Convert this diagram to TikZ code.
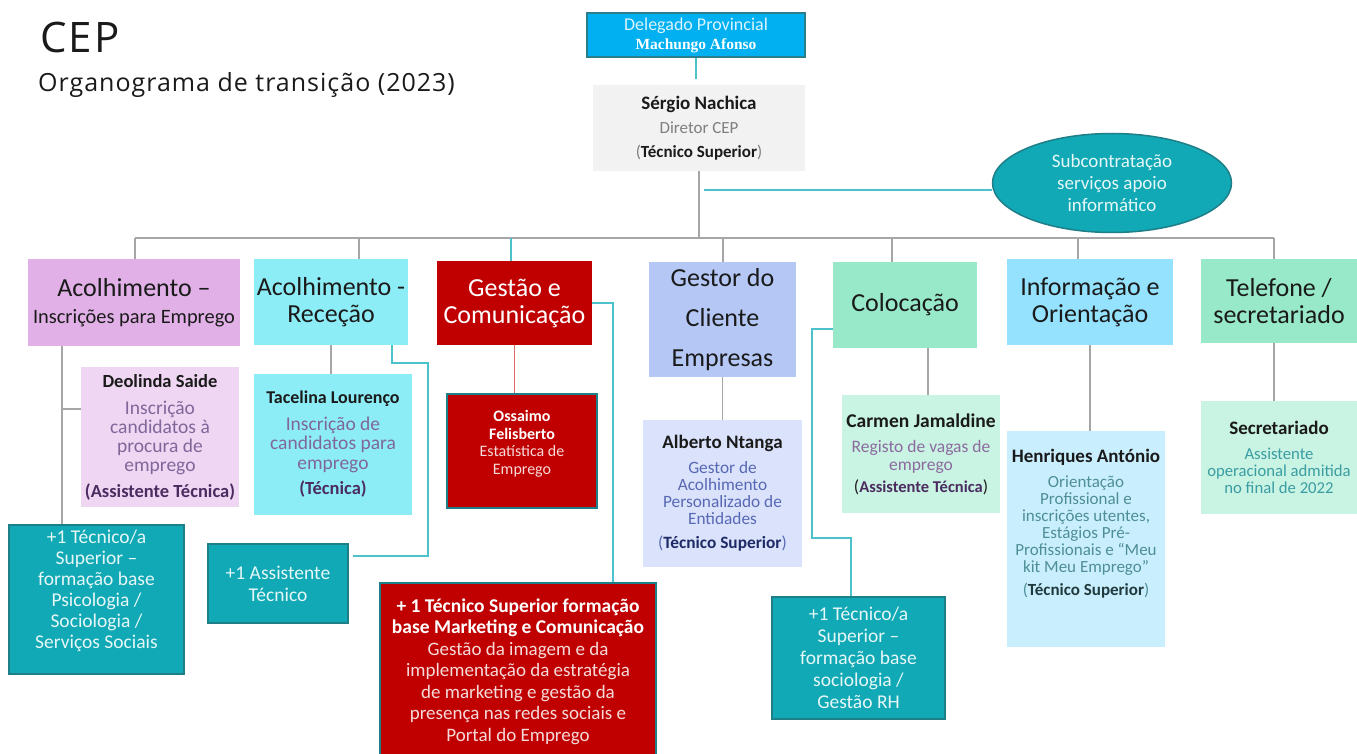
\documentclass[tikz,border=0pt]{standalone}
\usepackage{fontspec}
\setmainfont{Carlito}
\newfontfamily\titlefont{Open Sans}
\newfontfamily\delegfont{Liberation Serif}
\usetikzlibrary{shapes.geometric}

\definecolor{delegblue}{HTML}{00B0F0}
\definecolor{delegline}{HTML}{2A7F8A}
\definecolor{delegtext}{HTML}{DDF4FF}
\definecolor{dirfill}{HTML}{F2F2F2}
\definecolor{ink}{HTML}{1A1A1A}
\definecolor{midgray}{HTML}{7F7F7F}
\definecolor{orchid}{HTML}{E0B0E6}
\definecolor{orchidpale}{HTML}{EFD6F3}
\definecolor{plum}{HTML}{80679A}
\definecolor{darkplum}{HTML}{4B2C60}
\definecolor{aqua}{HTML}{8DEDF6}
\definecolor{crimson}{HTML}{C00000}
\definecolor{pinkwhite}{HTML}{F6DADA}
\definecolor{periwinkle}{HTML}{B4C7F5}
\definecolor{periwinklepale}{HTML}{DAE3FB}
\definecolor{bluedesc}{HTML}{5868B4}
\definecolor{navyink}{HTML}{1E2A66}
\definecolor{mint}{HTML}{97E9C9}
\definecolor{mintpale}{HTML}{C9F3E2}
\definecolor{mauve}{HTML}{8C6B9F}
\definecolor{sky}{HTML}{94E2FE}
\definecolor{skypale}{HTML}{C9EFFF}
\definecolor{tealgray}{HTML}{4E8E94}
\definecolor{darkteal}{HTML}{20393C}
\definecolor{tealtext}{HTML}{3A9DA3}
\definecolor{tealbox}{HTML}{10A9B5}
\definecolor{tealedge}{HTML}{1E7F88}
\definecolor{palewhite}{HTML}{E6F7F8}
\definecolor{treegray}{HTML}{A6A6A6}
\definecolor{linkteal}{HTML}{4CC2CC}
\definecolor{redlink}{HTML}{E06A6A}

\newcommand{\fsz}[2]{\fontsize{#1}{#2}\selectfont}

\begin{document}
\begin{tikzpicture}[x=1pt,y=-1pt,
    dims/.style 2 args={minimum width=#1pt,minimum height=#2pt}]
  \tikzstyle{head}=[inner sep=0pt,align=center,text=ink,font=\fsz{26}{27}]
  \tikzstyle{person}=[inner sep=0pt,align=center]
  \tikzstyle{extra}=[inner sep=0pt,align=center,fill=tealbox,draw=tealedge,line width=1.5pt,text=palewhite,font=\fsz{19.5}{21}]
  \tikzstyle{tree}=[draw=treegray,line width=1.2pt]
  \tikzstyle{link}=[draw=linkteal,line width=1.5pt]

  \fill[white] (0,0) rectangle (1357,754);
  \useasboundingbox (0,0) rectangle (1357,754);

  % title
  \node[anchor=base west,inner sep=0pt,text=ink,font=\titlefont\addfontfeature{LetterSpace=5}\fsz{42}{46}] (t_1) at (40,53) {CEP};
  \node[anchor=base west,inner sep=0pt,text=ink,font=\titlefont\addfontfeature{LetterSpace=4}\fsz{25}{30}] (t_2) at (38,92) {Organograma de transição (2023)};

  % top
  \node[person,fill=delegblue,draw=delegline,line width=1.5pt,dims={218}{44},font=\fsz{18}{19}] (deleg) at (696,35)
    {{\color{delegtext}Delegado Provincial}\\{\delegfont\bfseries\color{white}\fsz{15.5}{19}Machungo Afonso}};
  \node[person,fill=dirfill,dims={212}{86},text=midgray,font=\fsz{17}{24}] (dir) at (699,128)
    {{\bfseries\color{ink}\fsz{19}{24}Sérgio Nachica}\\Diretor CEP\\({\bfseries\color{ink}Técnico Superior})};
  \node[ellipse,fill=tealbox,draw=tealedge,line width=1.5pt,minimum width=239pt,minimum height=99pt,inner sep=0pt,align=center,text=palewhite,font=\fsz{19}{22}] (e_1) at (1112,183)
    {Subcontratação\\serviços apoio\\informático};

  % areas
  \node[head,fill=orchid,dims={212}{87}] (h_1) at (134,302.5) {Acolhimento –\\{\fsz{20.4}{26}Inscrições para Emprego}};
  \node[head,fill=aqua,dims={154}{86}] (h_2) at (331,302) {Acolhimento -\\Receção};
  \node[head,fill=crimson,text=white,dims={155}{84}] (h_3) at (514.5,303) {Gestão e\\Comunicação};
  \node[head,fill=periwinkle,dims={147}{115},font=\fsz{26}{40}] (h_4) at (722.5,319.5) {Gestor do\\Cliente\\Empresas};
  \node[head,fill=mint,dims={144}{86}] (h_5) at (905,305) {Colocação};
  \node[head,fill=sky,dims={166}{86}] (h_6) at (1090,302) {Informação e\\Orientação};
  \node[head,fill=mint,dims={156}{84}] (h_7) at (1279,301) {Telefone /\\secretariado};

  % people
  \node[person,fill=orchidpale,dims={158}{140},text=plum,font=\fsz{19.5}{19}] (p_1) at (160,437)
    {{\bfseries\color{ink}\fsz{18.5}{19}Deolinda Saide}\\[8pt]Inscrição\\candidatos à\\procura de\\emprego\\[7pt]{\bfseries\color{darkplum}\fsz{18.5}{19}(Assistente Técnica)}};
  \node[person,fill=aqua,dims={158}{141},text=plum,font=\fsz{19.5}{19.5}] (p_2) at (333,444.5)
    {{\bfseries\color{ink}\fsz{18}{19}Tacelina Lourenço}\\[7pt]Inscrição de\\candidatos para\\emprego\\[6pt]{\bfseries\color{darkplum}\fsz{18.5}{19}(Técnica)}};
  \node[person,fill=crimson,draw=tealedge,line width=1.5pt,dims={150}{114},text=pinkwhite,font=\fsz{16}{17.5}] (p_3) at (522,451)
    {{\bfseries\color{white}Ossaimo}\\{\bfseries\color{white}Felisberto}\\Estatística de\\Emprego\\\mbox{}};
  \node[person,fill=periwinklepale,dims={159}{147},text=bluedesc,font=\fsz{17.3}{17}] (p_4) at (722.5,493.5)
    {{\bfseries\color{ink}\fsz{19}{19}Alberto Ntanga}\\[8pt]Gestor de\\Acolhimento\\Personalizado de\\Entidades\\[7pt]({\bfseries\color{navyink}Técnico Superior})};
  \node[person,fill=mintpale,dims={158}{118},text=mauve,font=\fsz{17.5}{18}] (p_5) at (921,454)
    {{\bfseries\color{ink}\fsz{19.5}{19}Carmen Jamaldine}\\[7pt]Registo de vagas de\\emprego\\[4pt]{\color{ink}(}{\bfseries\color{darkplum}\fsz{16.5}{18}Assistente Técnica}{\color{ink})}};
  \node[person,fill=skypale,dims={158}{216},text=tealgray,font=\fsz{17}{17}] (p_6) at (1086,539)
    {{\bfseries\color{ink}\fsz{19}{19}Henriques António}\\[8pt]Orientação\\Profissional e\\inscrições utentes,\\Estágios Pré-\\Profissionais e “Meu\\kit Meu Emprego”\\[6pt]({\bfseries\color{darkteal}Técnico Superior})\\[17pt]\mbox{}};
  \node[person,fill=mintpale,dims={156}{113},text=tealtext,font=\fsz{16.7}{17}] (p_7) at (1279,457.5)
    {{\bfseries\color{ink}\fsz{19}{19}Secretariado}\\[8pt]Assistente\\operacional admitida\\no final de 2022};

  % new posts
  \node[extra,dims={175}{149}] (x_1) at (96.5,599.5)
    {+1 Técnico/a\\Superior –\\formação base\\Psicologia /\\Sociologia /\\Serviços Sociais\\\mbox{}};
  \node[extra,dims={140}{79},font=\fsz{19.5}{22}] (x_2) at (278,583.5) {+1 Assistente\\Técnico};
  \node[extra,fill=crimson,text=pinkwhite,dims={276}{177},font=\fsz{19}{21.5}] (x_3) at (518,671.5)
    {{\bfseries\color{white}\fsz{19.5}{21}+ 1 Técnico Superior formação}\\{\bfseries\color{white}\fsz{19.5}{21}base Marketing e Comunicação}\\Gestão da imagem e da\\implementação da estratégia\\de marketing e gestão da\\presença nas redes sociais e\\Portal do Emprego};
  \node[extra,dims={173}{122},font=\fsz{19.5}{22}] (x_4) at (858.5,658)
    {+1 Técnico/a\\Superior –\\formação base\\sociologia /\\Gestão RH};

  % hierarchy
  \draw[link] (deleg.south) -- ++(0,21);
  \coordinate (bus_l) at (135,238);
  \coordinate (bus_r) at (1274,238);
  \draw[tree] (dir.south) -- (dir.south |- bus_l);
  \draw[tree] (bus_l) -- (bus_r);
  \foreach \n/\x in {1/135,2/359,4/723,5/892,6/1078,7/1274} {
    \coordinate (t_\n) at (\x,238);
    \draw[tree] (t_\n) -- (t_\n |- h_\n.north);
  }
  \coordinate (t_3) at (511,238);
  \draw[link] (t_3) -- (t_3 |- h_3.north);
  \coordinate (s_e) at (704,190);
  \draw[link] (s_e) -- (s_e -| e_1.west);

  \coordinate (v_1) at (62,409);
  \draw[tree] (v_1 |- h_1.south) -- (v_1 |- x_1.north);
  \draw[tree] (v_1) -- (v_1 -| p_1.west);
  \draw[tree] (h_2.south) -- (h_2.south |- p_2.north);
  \draw[draw=redlink,line width=1.2pt] (h_3.south) -- (h_3.south |- p_3.north);
  \draw[tree] (h_4.south) -- (h_4.south |- p_4.north);
  \coordinate (v_5) at (928,0);
  \draw[tree] (v_5 |- h_5.south) -- (v_5 |- p_5.north);
  \draw[tree] (h_6.south) -- (h_6.south |- p_6.north);
  \coordinate (v_7) at (1274,0);
  \draw[tree] (v_7 |- h_7.south) -- (v_7 |- p_7.north);

  % links to new posts
  \draw[link] ([xshift=61pt]h_2.south) -- ++(0,18) -- ++(36,0) -- ++(0,193) -- ++(-75,0);
  \draw[link] (h_3.east) -| ([xshift=95pt]x_3.north);
  \draw[link] ([yshift=-24pt]h_5.west) -- ++(-21,0) -- ++(0,209) -| ([xshift=-7.5pt]x_4.north);
\end{tikzpicture}
\end{document}
